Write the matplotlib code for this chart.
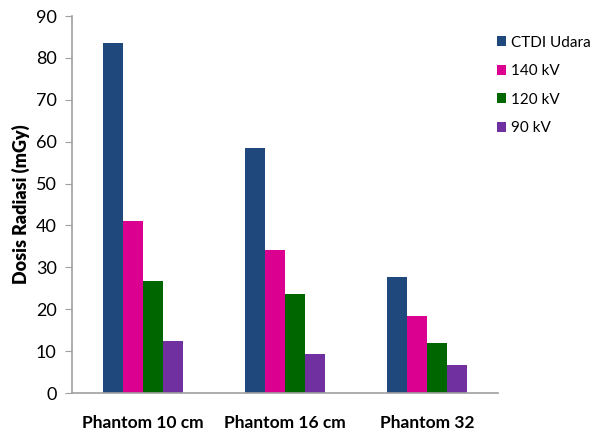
import numpy as np
from matplotlib import pyplot as plt
from matplotlib.patches import Patch

# Dose per phantom, one list per series (mGy)
phantoms = ['Phantom 10 cm', 'Phantom 16 cm', 'Phantom 32']
series_names = ['CTDI Udara', '140 kV', '120 kV', '90 kV']
ctdi_udara = [83.6, 58.4, 27.8]
kv_140 = [41.0, 34.1, 18.4]
kv_120 = [26.7, 23.6, 11.9]
kv_90 = [12.4, 9.3, 6.8]
y_ticks = [0, 10, 20, 30, 40, 50, 60, 70, 80, 90]

colors = ['#1F497D', '#DC0090', '#006600', '#7030A0']
font = 'Lato'

fig = plt.figure(figsize=(5.93, 4.36), dpi=100)
ax = fig.add_axes([0.1214, 0.0986, 0.7184, 0.8646])

x = np.arange(len(phantoms))
width = 0.141
values = [ctdi_udara, kv_140, kv_120, kv_90]
for i, (vals, c) in enumerate(zip(values, colors)):
	ax.bar(x + (i - 1.5) * width, vals, width, color=c, linewidth=0)

ax.set_xlim(-0.5, 2.5)
ax.set_ylim(0, 90)
ax.set_yticks(y_ticks)
ax.set_xticks(x)
ax.set_xticklabels(phantoms, fontfamily=font, fontweight='bold', fontsize=12.5)
for lbl in ax.get_yticklabels():
	lbl.set_fontfamily(font)
	lbl.set_fontsize(13)
ax.tick_params(axis='x', length=0, pad=16)
ax.tick_params(axis='y', length=5, color='#A0A0A0', pad=6)

for side in ('top', 'right'):
	ax.spines[side].set_visible(False)
for side in ('left', 'bottom'):
	ax.spines[side].set_color('#A0A0A0')
	ax.spines[side].set_linewidth(1.2)

ax.set_ylabel('Dosis Radiasi (mGy)', fontfamily=font, fontweight='heavy', fontsize=13, labelpad=4)

handles = [Patch(facecolor=c, label=n) for c, n in zip(colors, series_names)]
fig.legend(handles=handles, loc='upper left', bbox_to_anchor=(0.815, 0.95), frameon=False,
	prop={'family': font, 'size': 11}, handlelength=0.6, handleheight=0.6,
	handletextpad=0.3, labelspacing=0.95)

fig.savefig('out.png', dpi=100)
